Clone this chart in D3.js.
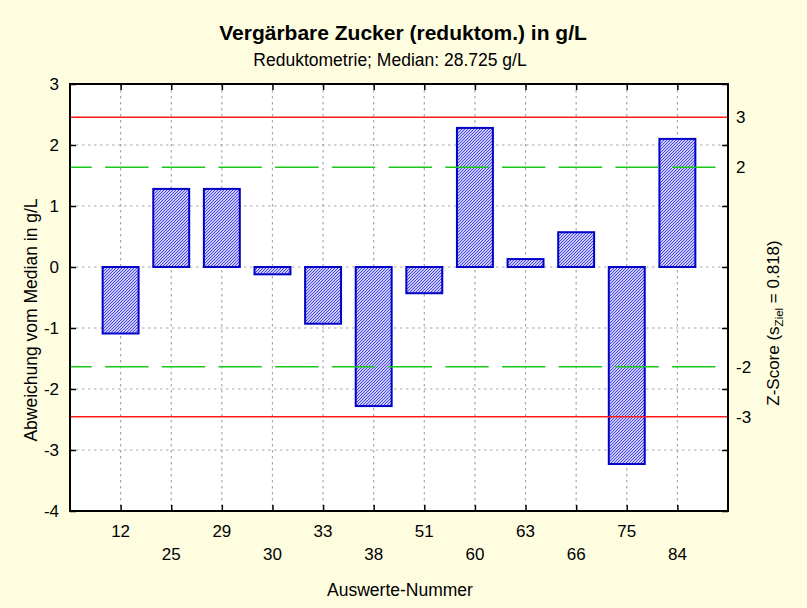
<!DOCTYPE html>
<html>
<head>
<meta charset="utf-8">
<script src="https://cdn.jsdelivr.net/npm/d3@7"></script>
<style>
html,body{margin:0;padding:0;background:#fffde0;}
svg{display:block;}
text{font-family:"Liberation Sans",Arial,Helvetica,sans-serif;fill:#000;}
</style>
</head>
<body>
<svg id="chart" width="807" height="608"></svg>
<script>
const categories = ["12","25","29","30","33","38","51","60","63","66","75","84"];
const values = [-1.09, 1.28, 1.28, -0.12, -0.93, -2.28, -0.43, 2.28, 0.13, 0.57, -3.23, 2.10];
const yTicks = [-4, -3, -2, -1, 0, 1, 2, 3];
const sZiel = 0.818;
const zRed = [3, -3];
const zGreen = [2, -2];
const zLabels = [3, 2, -2, -3];
const titleText = "Vergärbare Zucker (reduktom.) in g/L";
const subtitleText = "Reduktometrie; Median: 28.725 g/L";
const xTitle = "Auswerte-Nummer";
const yTitle = "Abweichung vom Median in g/L";

const W = 807, H = 608;
const m = {left: 70, right: 79, top: 84, bottom: 97};
const svg = d3.select("#chart");

svg.append("rect").attr("width", W).attr("height", H).attr("fill", "#fffde0");

const x = d3.scalePoint().domain(categories).range([m.left, W - m.right]).padding(1);
const y = d3.scaleLinear().domain([-4, 3]).range([H - m.bottom, m.top]);
const bw = x.step() * 0.71;

// defs: hatch pattern
const defs = svg.append("defs");
const pat = defs.append("pattern").attr("id", "hatch").attr("patternUnits", "userSpaceOnUse")
  .attr("width", 3).attr("height", 3);
pat.append("rect").attr("width", 3).attr("height", 3).attr("fill", "#ffffff");
pat.append("path").attr("d", "M-1,1 L1,-1 M0,3 L3,0 M2,4 L4,2")
  .attr("stroke", "#3c3cf0").attr("stroke-width", 1.05);

// plot background
svg.append("rect").attr("x", m.left).attr("y", m.top)
  .attr("width", W - m.left - m.right).attr("height", H - m.top - m.bottom).attr("fill", "#fff");

// grid
const g = svg.append("g");
g.selectAll(".vg").data(categories).join("line")
  .attr("x1", d => x(d)).attr("x2", d => x(d))
  .attr("y1", m.top).attr("y2", H - m.bottom)
  .attr("stroke", "#a8a8a8").attr("stroke-width", 1.2).attr("stroke-dasharray", "2.5,3.5");
g.selectAll(".hg").data(yTicks.slice(1, -1)).join("line")
  .attr("x1", m.left).attr("x2", W - m.right)
  .attr("y1", d => y(d)).attr("y2", d => y(d))
  .attr("stroke", "#a8a8a8").attr("stroke-width", 1.2).attr("stroke-dasharray", "2.5,3.5");

// bars
svg.append("g").selectAll("rect").data(values).join("rect")
  .attr("x", (d, i) => x(categories[i]) - bw / 2)
  .attr("width", bw)
  .attr("y", d => y(Math.max(0, d)))
  .attr("height", d => Math.abs(y(d) - y(0)))
  .attr("fill", "url(#hatch)")
  .attr("stroke", "#0000c8").attr("stroke-width", 2);

// limit lines
svg.append("g").selectAll("line").data(zRed).join("line")
  .attr("x1", m.left).attr("x2", W - m.right)
  .attr("y1", d => y(d * sZiel)).attr("y2", d => y(d * sZiel))
  .attr("stroke", "#ff1a1a").attr("stroke-width", 1.6);
svg.append("g").selectAll("line").data(zGreen).join("line")
  .attr("x1", m.left).attr("x2", W - m.right)
  .attr("y1", d => y(d * sZiel)).attr("y2", d => y(d * sZiel))
  .attr("stroke", "#19c819").attr("stroke-width", 1.6)
  .attr("stroke-dasharray", "43.4,13.3").attr("stroke-dashoffset", 21.6);

// axes (inward ticks)
const pw = W - m.left - m.right;
svg.append("g").attr("transform", `translate(${m.left},0)`)
  .call(d3.axisRight(y).tickValues(yTicks).tickSize(6).tickFormat(""))
  .call(a => a.select(".domain").remove());
svg.append("g").attr("transform", `translate(${W - m.right},0)`)
  .call(d3.axisLeft(y).tickValues(yTicks).tickSize(6).tickFormat(""))
  .call(a => a.select(".domain").remove());
svg.append("g").attr("transform", `translate(0,${H - m.bottom})`)
  .call(d3.axisTop(x).tickSize(6).tickFormat(""))
  .call(a => a.select(".domain").remove());
svg.append("g").attr("transform", `translate(0,${m.top})`)
  .call(d3.axisBottom(x).tickSize(6).tickFormat(""))
  .call(a => a.select(".domain").remove());
svg.selectAll(".tick line").attr("stroke", "#000").attr("stroke-width", 1.5);

// frame
svg.append("rect").attr("x", m.left).attr("y", m.top)
  .attr("width", pw).attr("height", H - m.top - m.bottom)
  .attr("fill", "none").attr("stroke", "#000").attr("stroke-width", 2);

// left tick labels
svg.append("g").selectAll("text").data(yTicks).join("text")
  .attr("x", m.left - 11).attr("y", d => y(d)).attr("dy", "0.36em")
  .attr("text-anchor", "end").attr("font-size", 17).text(d => d);

// right z labels
svg.append("g").selectAll("text").data(zLabels).join("text")
  .attr("x", W - m.right + 8).attr("y", d => y(d * sZiel)).attr("dy", "0.36em")
  .attr("text-anchor", "start").attr("font-size", 17).text(d => d);

// x tick labels (two rows)
svg.append("g").selectAll("text").data(categories).join("text")
  .attr("x", d => x(d)).attr("y", (d, i) => i % 2 === 0 ? 537 : 560)
  .attr("text-anchor", "middle").attr("font-size", 17).text(d => d);

// titles
svg.append("text").attr("x", 403).attr("y", 40).attr("text-anchor", "middle")
  .attr("font-size", 21).attr("font-weight", "bold").text(titleText);
svg.append("text").attr("x", 390).attr("y", 66).attr("text-anchor", "middle")
  .attr("font-size", 17.5).text(subtitleText);
svg.append("text").attr("x", 400).attr("y", 596).attr("text-anchor", "middle")
  .attr("font-size", 17.5).text(xTitle);
svg.append("text").attr("transform", "translate(37,320) rotate(-90)")
  .attr("text-anchor", "middle").attr("font-size", 17.5).text(yTitle);
const zt = svg.append("text").attr("transform", "translate(779,323) rotate(-90)")
  .attr("text-anchor", "middle").attr("font-size", 17);
zt.append("tspan").text("Z-Score (s");
zt.append("tspan").attr("font-size", 11.5).attr("dy", 4).text("Ziel");
zt.append("tspan").attr("dy", -4).text(" = 0.818)");
</script>
</body>
</html>
